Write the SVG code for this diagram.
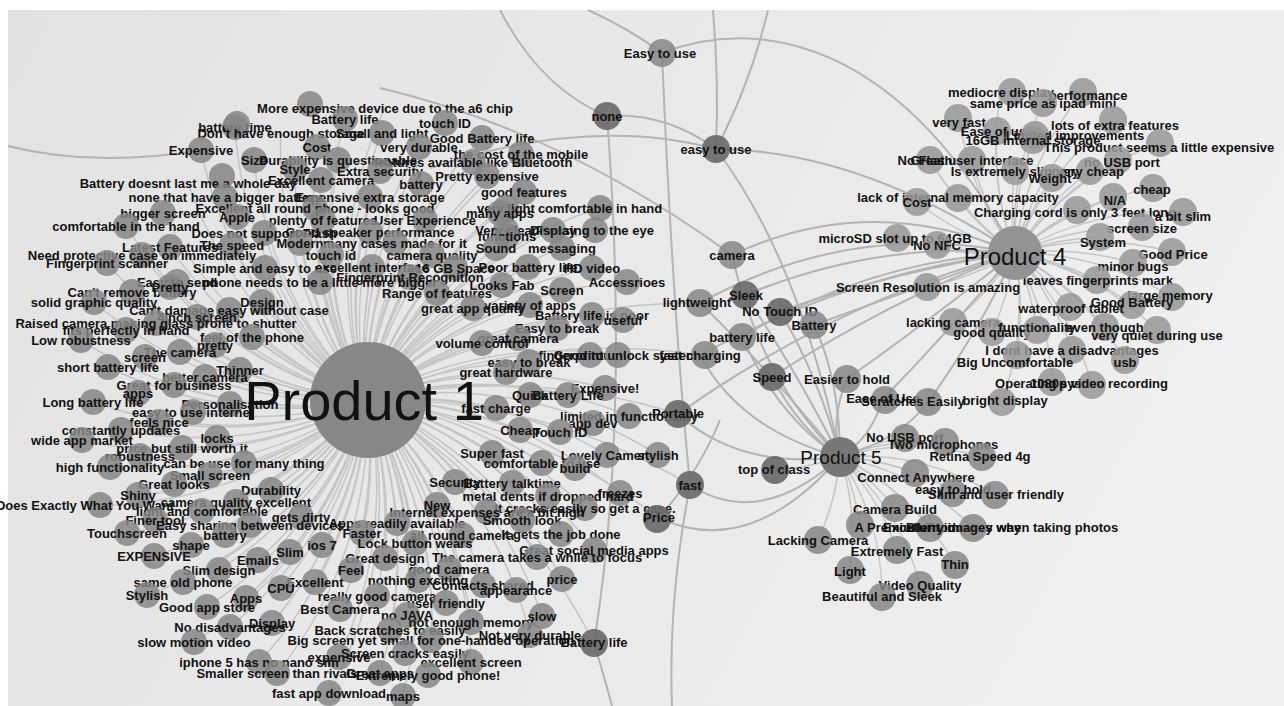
<svg xmlns="http://www.w3.org/2000/svg" width="1284" height="706" viewBox="0 0 1284 706">
<defs>
<linearGradient id="bg" x1="0" y1="0" x2="1" y2="0.3">
<stop offset="0" stop-color="#e2e2e2"/><stop offset="1" stop-color="#efefef"/>
</linearGradient>
<style>
.e{fill:none;stroke:#c6c6c6;stroke-width:1.5}
.E{fill:none;stroke:#b4b4b4;stroke-width:2}
circle{fill:#868686;fill-opacity:.85}
circle.d{fill:#6a6a6a;fill-opacity:.92}
circle.l{fill:#979797;fill-opacity:.85}
text{font-family:"Liberation Sans",Arial,sans-serif;font-weight:bold;font-size:13px;fill:#111;text-anchor:middle;dominant-baseline:central}
text.pl{font-weight:normal}
</style>
</defs>
<rect width="1284" height="706" fill="#ffffff"/>
<rect x="8" y="10" width="1276" height="696" fill="url(#bg)"/>
<g id="connectors">
<path class="e" d="M367,400A400,400 0 0 1 235,127"/><path class="e" d="M367,400A400,400 0 0 1 281,133"/><path class="e" d="M367,400A400,400 0 0 1 385,108"/><path class="e" d="M367,400A400,400 0 0 1 345,119"/><path class="e" d="M367,400A400,400 0 0 1 445,123"/><path class="e" d="M367,400A400,400 0 0 1 482,138"/><path class="e" d="M367,400A400,400 0 0 1 382,133"/><path class="e" d="M367,400A400,400 0 0 1 317,147"/><path class="e" d="M367,400A400,400 0 0 1 419,147"/><path class="e" d="M367,400A400,400 0 0 1 201,150"/><path class="e" d="M367,400A400,400 0 0 1 521,154"/><path class="e" d="M367,400A400,400 0 0 1 254,160"/><path class="e" d="M367,400A400,400 0 0 1 338,160"/><path class="e" d="M367,400A400,400 0 0 1 473,162"/><path class="e" d="M367,400A400,400 0 0 1 295,169"/><path class="e" d="M367,400A400,400 0 0 1 380,171"/><path class="e" d="M367,400A400,400 0 0 1 487,176"/><path class="e" d="M367,400A400,400 0 0 1 321,180"/><path class="e" d="M367,400A400,400 0 0 1 188,183"/><path class="e" d="M367,400A400,400 0 0 1 421,184"/><path class="e" d="M367,400A400,400 0 0 1 524,192"/><path class="e" d="M367,400A400,400 0 0 1 370,197"/><path class="e" d="M367,400A400,400 0 0 1 225,197"/><path class="e" d="M367,400A400,400 0 0 1 315,208"/><path class="e" d="M367,400A400,400 0 0 1 163,213"/><path class="e" d="M367,400A400,400 0 0 1 506,208"/><path class="e" d="M367,400A400,400 0 0 1 600,208"/><path class="e" d="M367,400A400,400 0 0 1 237,217"/><path class="e" d="M367,400A400,400 0 0 1 323,220"/><path class="e" d="M367,400A400,400 0 0 1 425,220"/><path class="e" d="M367,400A400,400 0 0 1 126,226"/><path class="e" d="M367,400A400,400 0 0 1 506,230"/><path class="e" d="M367,400A400,400 0 0 1 595,230"/><path class="e" d="M367,400A400,400 0 0 1 553,230"/><path class="e" d="M367,400A400,400 0 0 1 264,233"/><path class="e" d="M367,400A400,400 0 0 1 370,232"/><path class="e" d="M367,400A400,400 0 0 1 300,243"/><path class="e" d="M367,400A400,400 0 0 1 395,243"/><path class="e" d="M367,400A400,400 0 0 1 170,247"/><path class="e" d="M367,400A400,400 0 0 1 232,245"/><path class="e" d="M367,400A400,400 0 0 1 496,248"/><path class="e" d="M367,400A400,400 0 0 1 562,248"/><path class="e" d="M367,400A400,400 0 0 1 142,255"/><path class="e" d="M367,400A400,400 0 0 1 331,255"/><path class="e" d="M367,400A400,400 0 0 1 432,255"/><path class="e" d="M367,400A400,400 0 0 1 107,263"/><path class="e" d="M367,400A400,400 0 0 1 265,268"/><path class="e" d="M367,400A400,400 0 0 1 372,267"/><path class="e" d="M367,400A400,400 0 0 1 455,268"/><path class="e" d="M367,400A400,400 0 0 1 528,267"/><path class="e" d="M367,400A400,400 0 0 1 592,268"/><path class="e" d="M367,400A400,400 0 0 1 410,277"/><path class="e" d="M367,400A400,400 0 0 1 177,282"/><path class="e" d="M367,400A400,400 0 0 1 320,282"/><path class="e" d="M367,400A400,400 0 0 1 502,285"/><path class="e" d="M367,400A400,400 0 0 1 627,282"/><path class="e" d="M367,400A400,400 0 0 1 437,293"/><path class="e" d="M367,400A400,400 0 0 1 562,290"/><path class="e" d="M367,400A400,400 0 0 1 132,292"/><path class="e" d="M367,400A400,400 0 0 1 94,302"/><path class="e" d="M367,400A400,400 0 0 1 262,302"/><path class="e" d="M367,400A400,400 0 0 1 530,305"/><path class="e" d="M367,400A400,400 0 0 1 473,308"/><path class="e" d="M367,400A400,400 0 0 1 229,310"/><path class="e" d="M367,400A400,400 0 0 1 592,315"/><path class="e" d="M367,400A400,400 0 0 1 623,320"/><path class="e" d="M367,400A400,400 0 0 1 156,323"/><path class="e" d="M367,400A400,400 0 0 1 557,328"/><path class="e" d="M367,400A400,400 0 0 1 252,337"/><path class="e" d="M367,400A400,400 0 0 1 518,338"/><path class="e" d="M367,400A400,400 0 0 1 81,340"/><path class="e" d="M367,400A400,400 0 0 1 482,343"/><path class="e" d="M367,400A400,400 0 0 1 180,352"/><path class="e" d="M367,400A400,400 0 0 1 618,355"/><path class="e" d="M367,400A400,400 0 0 1 529,362"/><path class="e" d="M367,400A400,400 0 0 1 108,367"/><path class="e" d="M367,400A400,400 0 0 1 240,370"/><path class="e" d="M367,400A400,400 0 0 1 506,372"/><path class="e" d="M367,400A400,400 0 0 1 205,377"/><path class="e" d="M367,400A400,400 0 0 1 174,385"/><path class="e" d="M367,400A400,400 0 0 1 605,388"/><path class="e" d="M367,400A400,400 0 0 1 568,395"/><path class="e" d="M367,400A400,400 0 0 1 93,402"/><path class="e" d="M367,400A400,400 0 0 1 230,404"/><path class="e" d="M367,400A400,400 0 0 1 496,408"/><path class="e" d="M367,400A400,400 0 0 1 193,412"/><path class="e" d="M367,400A400,400 0 0 1 629,416"/><path class="e" d="M367,400A400,400 0 0 1 159,422"/><path class="e" d="M367,400A400,400 0 0 1 121,430"/><path class="e" d="M367,400A400,400 0 0 1 520,430"/><path class="e" d="M367,400A400,400 0 0 1 560,432"/><path class="e" d="M367,400A400,400 0 0 1 82,440"/><path class="e" d="M367,400A400,400 0 0 1 182,448"/><path class="e" d="M367,400A400,400 0 0 1 492,453"/><path class="e" d="M367,400A400,400 0 0 1 607,455"/><path class="e" d="M367,400A400,400 0 0 1 658,455"/><path class="e" d="M367,400A400,400 0 0 1 244,463"/><path class="e" d="M367,400A400,400 0 0 1 542,463"/><path class="e" d="M367,400A400,400 0 0 1 110,467"/><path class="e" d="M367,400A400,400 0 0 1 210,475"/><path class="e" d="M367,400A400,400 0 0 1 455,482"/><path class="e" d="M367,400A400,400 0 0 1 512,483"/><path class="e" d="M367,400A400,400 0 0 1 174,484"/><path class="e" d="M367,400A400,400 0 0 1 271,490"/><path class="e" d="M367,400A400,400 0 0 1 620,493"/><path class="e" d="M367,400A400,400 0 0 1 138,495"/><path class="e" d="M367,400A400,400 0 0 1 548,496"/><path class="e" d="M367,400A400,400 0 0 1 236,502"/><path class="e" d="M367,400A400,400 0 0 1 85,505"/><path class="e" d="M367,400A400,400 0 0 1 585,508"/><path class="e" d="M367,400A400,400 0 0 1 202,511"/><path class="e" d="M367,400A400,400 0 0 1 487,512"/><path class="e" d="M367,400A400,400 0 0 1 301,517"/><path class="e" d="M367,400A400,400 0 0 1 397,523"/><path class="e" d="M367,400A400,400 0 0 1 250,525"/><path class="e" d="M367,400A400,400 0 0 1 127,533"/><path class="e" d="M367,400A400,400 0 0 1 362,533"/><path class="e" d="M367,400A400,400 0 0 1 462,535"/><path class="e" d="M367,400A400,400 0 0 1 561,534"/><path class="e" d="M367,400A400,400 0 0 1 415,543"/><path class="e" d="M367,400A400,400 0 0 1 191,545"/><path class="e" d="M367,400A400,400 0 0 1 322,545"/><path class="e" d="M367,400A400,400 0 0 1 290,552"/><path class="e" d="M367,400A400,400 0 0 1 594,550"/><path class="e" d="M367,400A400,400 0 0 1 154,556"/><path class="e" d="M367,400A400,400 0 0 1 385,558"/><path class="e" d="M367,400A400,400 0 0 1 537,557"/><path class="e" d="M367,400A400,400 0 0 1 258,560"/><path class="e" d="M367,400A400,400 0 0 1 449,569"/><path class="e" d="M367,400A400,400 0 0 1 351,570"/><path class="e" d="M367,400A400,400 0 0 1 219,570"/><path class="e" d="M367,400A400,400 0 0 1 418,580"/><path class="e" d="M367,400A400,400 0 0 1 315,582"/><path class="e" d="M367,400A400,400 0 0 1 183,582"/><path class="e" d="M367,400A400,400 0 0 1 562,579"/><path class="e" d="M367,400A400,400 0 0 1 483,585"/><path class="e" d="M367,400A400,400 0 0 1 281,588"/><path class="e" d="M367,400A400,400 0 0 1 516,590"/><path class="e" d="M367,400A400,400 0 0 1 147,595"/><path class="e" d="M367,400A400,400 0 0 1 246,598"/><path class="e" d="M367,400A400,400 0 0 1 377,596"/><path class="e" d="M367,400A400,400 0 0 1 446,603"/><path class="e" d="M367,400A400,400 0 0 1 207,607"/><path class="e" d="M367,400A400,400 0 0 1 340,609"/><path class="e" d="M367,400A400,400 0 0 1 407,615"/><path class="e" d="M367,400A400,400 0 0 1 542,616"/><path class="e" d="M367,400A400,400 0 0 1 471,622"/><path class="e" d="M367,400A400,400 0 0 1 272,623"/><path class="e" d="M367,400A400,400 0 0 1 230,627"/><path class="e" d="M367,400A400,400 0 0 1 390,630"/><path class="e" d="M367,400A400,400 0 0 1 530,635"/><path class="e" d="M367,400A400,400 0 0 1 431,640"/><path class="e" d="M367,400A400,400 0 0 1 194,642"/><path class="e" d="M367,400A400,400 0 0 1 339,657"/><path class="e" d="M367,400A400,400 0 0 1 405,653"/><path class="e" d="M367,400A400,400 0 0 1 259,662"/><path class="e" d="M367,400A400,400 0 0 1 471,662"/><path class="e" d="M367,400A400,400 0 0 1 277,673"/><path class="e" d="M367,400A400,400 0 0 1 380,673"/><path class="e" d="M367,400A400,400 0 0 1 428,675"/><path class="e" d="M367,400A400,400 0 0 1 329,693"/><path class="e" d="M367,400A400,400 0 0 1 403,696"/>
<path class="e" d="M367,400A600,600 0 0 1 678,414"/><path class="e" d="M367,400A600,600 0 0 1 690,485"/><path class="e" d="M367,400A600,600 0 0 1 659,518"/><path class="e" d="M367,400A600,600 0 0 1 700,355"/><path class="e" d="M367,400A600,600 0 0 1 700,303"/><path class="e" d="M367,400A600,600 0 0 1 594,643"/>
<path class="e" d="M1015,253A300,300 0 0 1 1001,92"/><path class="e" d="M1015,253A300,300 0 0 1 1083,92"/><path class="e" d="M1015,253A300,300 0 0 1 1043,103"/><path class="e" d="M1015,253A300,300 0 0 1 1113,120"/><path class="e" d="M1015,253A300,300 0 0 1 959,118"/><path class="e" d="M1015,253A300,300 0 0 1 997,131"/><path class="e" d="M1015,253A300,300 0 0 1 1075,135"/><path class="e" d="M1015,253A300,300 0 0 1 1033,140"/><path class="e" d="M1015,253A300,300 0 0 1 1160,143"/><path class="e" d="M1015,253A300,300 0 0 1 1118,160"/><path class="e" d="M1015,253A300,300 0 0 1 930,160"/><path class="e" d="M1015,253A300,300 0 0 1 972,160"/><path class="e" d="M1015,253A300,300 0 0 1 1015,171"/><path class="e" d="M1015,253A300,300 0 0 1 1090,171"/><path class="e" d="M1015,253A300,300 0 0 1 1052,178"/><path class="e" d="M1015,253A300,300 0 0 1 1153,188"/><path class="e" d="M1015,253A300,300 0 0 1 1113,197"/><path class="e" d="M1015,253A300,300 0 0 1 958,198"/><path class="e" d="M1015,253A300,300 0 0 1 917,202"/><path class="e" d="M1015,253A300,300 0 0 1 1077,210"/><path class="e" d="M1015,253A300,300 0 0 1 1183,212"/><path class="e" d="M1015,253A300,300 0 0 1 1142,227"/><path class="e" d="M1015,253A300,300 0 0 1 897,238"/><path class="e" d="M1015,253A300,300 0 0 1 937,245"/><path class="e" d="M1015,253A300,300 0 0 1 1100,237"/><path class="e" d="M1015,253A300,300 0 0 1 1172,252"/><path class="e" d="M1015,253A300,300 0 0 1 1133,263"/><path class="e" d="M1015,253A300,300 0 0 1 927,287"/><path class="e" d="M1015,253A300,300 0 0 1 1097,280"/><path class="e" d="M1015,253A300,300 0 0 1 1172,297"/><path class="e" d="M1015,253A300,300 0 0 1 1132,305"/><path class="e" d="M1015,253A300,300 0 0 1 1070,307"/><path class="e" d="M1015,253A300,300 0 0 1 953,322"/><path class="e" d="M1015,253A300,300 0 0 1 992,332"/><path class="e" d="M1015,253A300,300 0 0 1 1037,330"/><path class="e" d="M1015,253A300,300 0 0 1 1105,327"/><path class="e" d="M1015,253A300,300 0 0 1 1157,330"/><path class="e" d="M1015,253A300,300 0 0 1 1072,350"/><path class="e" d="M1015,253A300,300 0 0 1 1017,355"/><path class="e" d="M1015,253A300,300 0 0 1 1125,360"/><path class="e" d="M1015,253A300,300 0 0 1 1052,382"/><path class="e" d="M1015,253A300,300 0 0 1 1092,385"/><path class="e" d="M1015,253A300,300 0 0 1 1002,402"/>
<path class="e" d="M840,457A250,250 0 0 1 775,470"/><path class="e" d="M840,457A250,250 0 0 1 905,438"/><path class="e" d="M840,457A250,250 0 0 1 945,442"/><path class="e" d="M840,457A250,250 0 0 1 982,457"/><path class="e" d="M840,457A250,250 0 0 1 915,473"/><path class="e" d="M840,457A250,250 0 0 1 953,491"/><path class="e" d="M840,457A250,250 0 0 1 995,495"/><path class="e" d="M840,457A250,250 0 0 1 895,508"/><path class="e" d="M840,457A250,250 0 0 1 860,525"/><path class="e" d="M840,457A250,250 0 0 1 930,528"/><path class="e" d="M840,457A250,250 0 0 1 973,528"/><path class="e" d="M840,457A250,250 0 0 1 818,540"/><path class="e" d="M840,457A250,250 0 0 1 897,550"/><path class="e" d="M840,457A250,250 0 0 1 955,565"/><path class="e" d="M840,457A250,250 0 0 1 850,570"/><path class="e" d="M840,457A250,250 0 0 1 920,585"/><path class="e" d="M840,457A250,250 0 0 1 882,597"/>
<path class="E" d="M1015,253Q870,190 732,255"/><path class="E" d="M1015,253Q880,240 745,295"/><path class="E" d="M1015,253Q850,220 700,303"/><path class="E" d="M1015,253Q900,270 780,311"/><path class="E" d="M1015,253Q910,290 814,325"/><path class="E" d="M1015,253Q870,260 742,337"/><path class="E" d="M1015,253Q860,270 700,355"/><path class="E" d="M1015,253Q890,300 772,377"/><path class="E" d="M1015,253Q930,320 847,379"/><path class="E" d="M1015,253Q950,330 883,399"/><path class="E" d="M1015,253Q980,330 928,402"/><path class="E" d="M1015,253Q840,300 678,414"/><path class="E" d="M1015,253Q860,150 716,149"/><path class="E" d="M662,53C760,15 900,40 1015,253"/>
<path class="E" d="M840,457Q760,380 732,255"/><path class="E" d="M840,457Q790,360 745,295"/><path class="E" d="M840,457Q760,360 700,303"/><path class="E" d="M840,457Q820,380 780,311"/><path class="E" d="M840,457Q840,380 814,325"/><path class="E" d="M840,457Q780,420 742,337"/><path class="E" d="M840,457Q740,430 700,355"/><path class="E" d="M840,457Q800,430 772,377"/><path class="E" d="M840,457Q830,420 847,379"/><path class="E" d="M840,457Q870,440 883,399"/><path class="E" d="M840,457Q900,440 928,402"/><path class="E" d="M840,457Q740,470 678,414"/><path class="E" d="M840,457Q760,530 690,485"/><path class="E" d="M840,457Q750,560 659,518"/><path class="E" d="M716,149Q800,260 840,457"/>
<path class="E" d="M500,10Q540,88 607,116"/><path class="E" d="M607,116Q630,420 594,643"/><path class="E" d="M594,643Q604,676 612,706"/><path class="E" d="M588,10Q628,28 662,53"/><path class="E" d="M662,53Q672,300 690,485"/><path class="E" d="M690,485Q668,600 672,706"/><path class="E" d="M713,10Q719,80 716,149"/><path class="E" d="M768,10Q750,85 716,149"/><path class="E" d="M607,116Q665,112 716,149"/><path class="E" d="M8,146Q95,168 201,150"/><path class="E" d="M380,88Q560,130 732,255"/><path class="E" d="M430,168Q590,115 716,149"/><path class="E" d="M659,518Q700,470 720,420"/>
</g>
<g id="n-a1"><circle cx="235" cy="127" r="13"/><text x="235" y="127">battery time</text></g>
<g id="n-a2"><circle cx="237" cy="124" r="13"/><text x="281" y="133">Don't have enough storage</text></g>
<g id="n-a3"><circle cx="310" cy="104" r="13"/><text x="385" y="108">More expensive device due to the a6 chip</text></g>
<g id="n-a4"><circle cx="345" cy="119" r="13"/><text x="345" y="119">Battery life</text></g>
<g id="n-a5"><circle cx="445" cy="123" r="13"/><text x="445" y="123">touch ID</text></g>
<g id="n-a6"><circle cx="482" cy="138" r="13"/><text x="482" y="138">Good Battery life</text></g>
<g id="n-a7"><circle cx="382" cy="133" r="13"/><text x="382" y="133">Small and light</text></g>
<g id="n-a8"><circle cx="317" cy="147" r="13"/><text x="317" y="147">Cost</text></g>
<g id="n-a9"><circle cx="419" cy="147" r="13"/><text x="419" y="147">very durable</text></g>
<g id="n-a10"><circle cx="201" cy="150" r="13"/><text x="201" y="150">Expensive</text></g>
<g id="n-a11"><circle cx="521" cy="154" r="13"/><text x="521" y="154">the cost of the mobile</text></g>
<g id="n-a12"><circle cx="254" cy="160" r="13"/><text x="254" y="160">Size</text></g>
<g id="n-a13"><circle cx="338" cy="160" r="13"/><text x="338" y="160">Durability is questionable</text></g>
<g id="n-a14"><circle cx="473" cy="162" r="13"/><text x="473" y="162">features available like Bluetooth</text></g>
<g id="n-a15"><circle cx="295" cy="169" r="13"/><text x="295" y="169">Style</text></g>
<g id="n-a16"><circle cx="380" cy="171" r="13"/><text x="380" y="171">Extra security</text></g>
<g id="n-a17"><circle cx="487" cy="176" r="13"/><text x="487" y="176">Pretty expensive</text></g>
<g id="n-a18"><circle cx="321" cy="180" r="13"/><text x="321" y="180">Excellent camera</text></g>
<g id="n-a19"><circle cx="222" cy="176" r="13"/><text x="188" y="183">Battery doesnt last me a whole day</text></g>
<g id="n-a20"><circle cx="421" cy="184" r="13"/><text x="421" y="184">battery</text></g>
<g id="n-a21"><circle cx="524" cy="192" r="13"/><text x="524" y="192">good features</text></g>
<g id="n-a22"><circle cx="370" cy="197" r="13"/><text x="370" y="197">Expensive extra storage</text></g>
<g id="n-a23"><circle cx="225" cy="197" r="13"/><text x="225" y="197">none that have a bigger battery</text></g>
<g id="n-a24"><circle cx="315" cy="208" r="13"/><text x="315" y="208">Excellent all round phone - looks good</text></g>
<g id="n-a25"><circle cx="163" cy="213" r="13"/><text x="163" y="213">bigger screen</text></g>
<g id="n-a26"><circle cx="506" cy="208" r="13"/><text x="506" y="208">very light</text></g>
<g id="n-a27"><circle cx="600" cy="208" r="13"/><text x="600" y="208">comfortable in hand</text></g>
<g id="n-a28"><circle cx="237" cy="217" r="13"/><text x="237" y="217">Apple</text></g>
<g id="n-a29"><circle cx="323" cy="220" r="13"/><text x="323" y="220">plenty of features</text></g>
<g id="n-a30"><circle cx="425" cy="220" r="13"/><text x="425" y="220">User Experience</text></g>
<g id="n-a31"><circle cx="500" cy="213" r="13"/><text x="500" y="213">many apps</text></g>
<g id="n-a32"><circle cx="126" cy="226" r="13"/><text x="126" y="226">comfortable in the hand</text></g>
<g id="n-a33"><circle cx="506" cy="230" r="13"/><text x="506" y="230">Very clear</text></g>
<g id="n-a34"><circle cx="507" cy="236" r="13"/><text x="507" y="236">functions</text></g>
<g id="n-a35"><circle cx="595" cy="230" r="13"/><text x="595" y="230">Pleasing to the eye</text></g>
<g id="n-a36"><circle cx="553" cy="230" r="13"/><text x="553" y="230">Display</text></g>
<g id="n-a37"><circle cx="264" cy="233" r="13"/><text x="264" y="233">Does not support Flash</text></g>
<g id="n-a38"><circle cx="370" cy="232" r="13"/><text x="370" y="232">Good speaker performance</text></g>
<g id="n-a39"><circle cx="300" cy="243" r="13"/><text x="300" y="243">Modern</text></g>
<g id="n-a40"><circle cx="395" cy="243" r="13"/><text x="395" y="243">many cases made for it</text></g>
<g id="n-a41"><circle cx="170" cy="247" r="13"/><text x="170" y="247">Latest Features</text></g>
<g id="n-a42"><circle cx="232" cy="245" r="13"/><text x="232" y="245">The speed</text></g>
<g id="n-a43"><circle cx="496" cy="248" r="13"/><text x="496" y="248">Sound</text></g>
<g id="n-a44"><circle cx="562" cy="248" r="13"/><text x="562" y="248">messaging</text></g>
<g id="n-a45"><circle cx="142" cy="255" r="13"/><text x="142" y="255">Need protective case on immediately</text></g>
<g id="n-a46"><circle cx="331" cy="255" r="13"/><text x="331" y="255">touch id</text></g>
<g id="n-a47"><circle cx="432" cy="255" r="13"/><text x="432" y="255">camera quality</text></g>
<g id="n-a48"><circle cx="107" cy="263" r="13"/><text x="107" y="263">Fingerprint scanner</text></g>
<g id="n-a49"><circle cx="265" cy="268" r="13"/><text x="265" y="268">Simple and easy to use</text></g>
<g id="n-a50"><circle cx="372" cy="267" r="13"/><text x="372" y="267">excellent interface</text></g>
<g id="n-a51"><circle cx="455" cy="268" r="13"/><text x="455" y="268">16 GB Space</text></g>
<g id="n-a52"><circle cx="528" cy="267" r="13"/><text x="528" y="267">Poor battery life</text></g>
<g id="n-a53"><circle cx="592" cy="268" r="13"/><text x="592" y="268">HD video</text></g>
<g id="n-a54"><circle cx="410" cy="277" r="13"/><text x="410" y="277">Fingerprint Recognition</text></g>
<g id="n-a55"><circle cx="177" cy="282" r="13"/><text x="177" y="282">Easy to send</text></g>
<g id="n-a56"><circle cx="320" cy="282" r="13"/><text x="320" y="282">phone needs to be a little more bigger</text></g>
<g id="n-a57"><circle cx="502" cy="285" r="13"/><text x="502" y="285">Looks Fab</text></g>
<g id="n-a58"><circle cx="627" cy="282" r="13"/><text x="627" y="282">Accessrioes</text></g>
<g id="n-a59"><circle cx="437" cy="293" r="13"/><text x="437" y="293">Range of features</text></g>
<g id="n-a60"><circle cx="562" cy="290" r="13"/><text x="562" y="290">Screen</text></g>
<g id="n-a61"><circle cx="132" cy="292" r="13"/><text x="132" y="292">Can't remove battery</text></g>
<g id="n-a62"><circle cx="170" cy="287" r="13"/><text x="170" y="287">Pretty</text></g>
<g id="n-a63"><circle cx="94" cy="302" r="13"/><text x="94" y="302">solid graphic quality</text></g>
<g id="n-a64"><circle cx="262" cy="302" r="13"/><text x="262" y="302">Design</text></g>
<g id="n-a65"><circle cx="530" cy="305" r="13"/><text x="530" y="305">variety of apps</text></g>
<g id="n-a66"><circle cx="473" cy="308" r="13"/><text x="473" y="308">great app quality</text></g>
<g id="n-a67"><circle cx="229" cy="310" r="13"/><text x="229" y="310">Can't damage easy without case</text></g>
<g id="n-a68"><circle cx="197" cy="317" r="13"/><text x="197" y="317">4inch screen</text></g>
<g id="n-a69"><circle cx="592" cy="315" r="13"/><text x="592" y="315">Battery life is poor</text></g>
<g id="n-a70"><circle cx="623" cy="320" r="13"/><text x="623" y="320">useful</text></g>
<g id="n-a71"><circle cx="156" cy="323" r="13"/><text x="156" y="323">Raised camera making glass prone to shutter</text></g>
<g id="n-a72"><circle cx="126" cy="330" r="13"/><text x="126" y="330">fits perfectly in hand</text></g>
<g id="n-a73"><circle cx="557" cy="328" r="13"/><text x="557" y="328">Easy to break</text></g>
<g id="n-a74"><circle cx="252" cy="337" r="13"/><text x="252" y="337">feel of the phone</text></g>
<g id="n-a75"><circle cx="518" cy="338" r="13"/><text x="518" y="338">great camera</text></g>
<g id="n-a76"><circle cx="81" cy="340" r="13"/><text x="81" y="340">Low robustness</text></g>
<g id="n-a77"><circle cx="482" cy="343" r="13"/><text x="482" y="343">volume control</text></g>
<g id="n-a78"><circle cx="215" cy="345" r="13"/><text x="215" y="345">pretty</text></g>
<g id="n-a79"><circle cx="180" cy="352" r="13"/><text x="180" y="352">The camera</text></g>
<g id="n-a80"><circle cx="145" cy="357" r="13"/><text x="145" y="357">screen</text></g>
<g id="n-a81"><circle cx="590" cy="355" r="13"/><text x="590" y="355">Good touch</text></g>
<g id="n-a82"><circle cx="618" cy="355" r="13"/><text x="618" y="355">fingerprint unlock system</text></g>
<g id="n-a83"><circle cx="529" cy="362" r="13"/><text x="529" y="362">easy to break</text></g>
<g id="n-a84"><circle cx="108" cy="367" r="13"/><text x="108" y="367">short battery life</text></g>
<g id="n-a85"><circle cx="240" cy="370" r="13"/><text x="240" y="370">Thinner</text></g>
<g id="n-a86"><circle cx="506" cy="372" r="13"/><text x="506" y="372">great hardware</text></g>
<g id="n-a87"><circle cx="205" cy="377" r="13"/><text x="205" y="377">better camera</text></g>
<g id="n-a88"><circle cx="174" cy="385" r="13"/><text x="174" y="385">Great for business</text></g>
<g id="n-a89"><circle cx="605" cy="388" r="13"/><text x="605" y="388">Expensive!</text></g>
<g id="n-a90"><circle cx="138" cy="393" r="13"/><text x="138" y="393">apps</text></g>
<g id="n-a91"><circle cx="530" cy="395" r="13"/><text x="530" y="395">Quick</text></g>
<g id="n-a92"><circle cx="568" cy="395" r="13"/><text x="568" y="395">Battery Life</text></g>
<g id="n-a93"><circle cx="93" cy="402" r="13"/><text x="93" y="402">Long battery life</text></g>
<g id="n-a94"><circle cx="230" cy="404" r="13"/><text x="230" y="404">Personalisation</text></g>
<g id="n-a95"><circle cx="496" cy="408" r="13"/><text x="496" y="408">fast charge</text></g>
<g id="n-a96"><circle cx="193" cy="412" r="13"/><text x="193" y="412">easy to use internet</text></g>
<g id="n-a97"><circle cx="629" cy="416" r="13"/><text x="629" y="416">limited in functionality</text></g>
<g id="n-a98"><circle cx="593" cy="423" r="13"/><text x="593" y="423">app dev</text></g>
<g id="n-a99"><circle cx="159" cy="422" r="13"/><text x="159" y="422">feels nice</text></g>
<g id="n-a100"><circle cx="121" cy="430" r="13"/><text x="121" y="430">constantly updates</text></g>
<g id="n-a101"><circle cx="520" cy="430" r="13"/><text x="520" y="430">Cheap</text></g>
<g id="n-a102"><circle cx="560" cy="432" r="13"/><text x="560" y="432">Touch ID</text></g>
<g id="n-a103"><circle cx="217" cy="438" r="13"/><text x="217" y="438">locks</text></g>
<g id="n-a104"><circle cx="82" cy="440" r="13"/><text x="82" y="440">wide app market</text></g>
<g id="n-a105"><circle cx="182" cy="448" r="13"/><text x="182" y="448">price but still worth it</text></g>
<g id="n-a106"><circle cx="492" cy="453" r="13"/><text x="492" y="453">Super fast</text></g>
<g id="n-a107"><circle cx="607" cy="455" r="13"/><text x="607" y="455">Lovely Camera</text></g>
<g id="n-a108"><circle cx="658" cy="455" r="13"/><text x="658" y="455">stylish</text></g>
<g id="n-a109"><circle cx="140" cy="456" r="13"/><text x="140" y="456">robustness</text></g>
<g id="n-a110"><circle cx="244" cy="463" r="13"/><text x="244" y="463">can be use for many thing</text></g>
<g id="n-a111"><circle cx="542" cy="463" r="13"/><text x="542" y="463">comfortable to use</text></g>
<g id="n-a112"><circle cx="575" cy="468" r="13"/><text x="575" y="468">build</text></g>
<g id="n-a113"><circle cx="110" cy="467" r="13"/><text x="110" y="467">high functionality</text></g>
<g id="n-a114"><circle cx="210" cy="475" r="13"/><text x="210" y="475">Small screen</text></g>
<g id="n-a115"><circle cx="455" cy="482" r="13"/><text x="455" y="482">Security</text></g>
<g id="n-a116"><circle cx="512" cy="483" r="13"/><text x="512" y="483">Battery talktime</text></g>
<g id="n-a117"><circle cx="174" cy="484" r="13"/><text x="174" y="484">Great looks</text></g>
<g id="n-a118"><circle cx="271" cy="490" r="13"/><text x="271" y="490">Durability</text></g>
<g id="n-a119"><circle cx="620" cy="493" r="13"/><text x="620" y="493">freezes</text></g>
<g id="n-a120"><circle cx="138" cy="495" r="13"/><text x="138" y="495">Shiny</text></g>
<g id="n-a121"><circle cx="548" cy="496" r="13"/><text x="548" y="496">metal dents if dropped hard</text></g>
<g id="n-a122"><circle cx="236" cy="502" r="13"/><text x="236" y="502">camera quality excellent</text></g>
<g id="n-a123"><circle cx="100" cy="505" r="13"/><text x="85" y="505">Does Exactly What You Want</text></g>
<g id="n-a124"><circle cx="437" cy="505" r="13"/><text x="437" y="505">New</text></g>
<g id="n-a125"><circle cx="585" cy="508" r="13"/><text x="585" y="508">It cracks easily so get a case.</text></g>
<g id="n-a126"><circle cx="202" cy="511" r="13"/><text x="202" y="511">light and comfortable</text></g>
<g id="n-a127"><circle cx="487" cy="512" r="13"/><text x="487" y="512">Internet expenses are a bit high</text></g>
<g id="n-a128"><circle cx="301" cy="517" r="13"/><text x="301" y="517">gets dirty</text></g>
<g id="n-a129"><circle cx="522" cy="520" r="13"/><text x="522" y="520">Smooth look</text></g>
<g id="n-a130"><circle cx="397" cy="523" r="13"/><text x="397" y="523">Apps readily available</text></g>
<g id="n-a131"><circle cx="155" cy="520" r="13"/><text x="155" y="520">Finer tool</text></g>
<g id="n-a132"><circle cx="250" cy="525" r="13"/><text x="250" y="525">Easy sharing between devices</text></g>
<g id="n-a133"><circle cx="127" cy="533" r="13"/><text x="127" y="533">Touchscreen</text></g>
<g id="n-a134"><circle cx="225" cy="535" r="13"/><text x="225" y="535">battery</text></g>
<g id="n-a135"><circle cx="362" cy="533" r="13"/><text x="362" y="533">Faster</text></g>
<g id="n-a136"><circle cx="462" cy="535" r="13"/><text x="462" y="535">all round camera</text></g>
<g id="n-a137"><circle cx="561" cy="534" r="13"/><text x="561" y="534">It gets the job done</text></g>
<g id="n-a138"><circle cx="415" cy="543" r="13"/><text x="415" y="543">Lock button wears</text></g>
<g id="n-a139"><circle cx="191" cy="545" r="13"/><text x="191" y="545">shape</text></g>
<g id="n-a140"><circle cx="322" cy="545" r="13"/><text x="322" y="545">ios 7</text></g>
<g id="n-a141"><circle cx="290" cy="552" r="13"/><text x="290" y="552">Slim</text></g>
<g id="n-a142"><circle cx="594" cy="550" r="13"/><text x="594" y="550">Great social media apps</text></g>
<g id="n-a143"><circle cx="154" cy="556" r="13"/><text x="154" y="556">EXPENSIVE</text></g>
<g id="n-a144"><circle cx="385" cy="558" r="13"/><text x="385" y="558">Great design</text></g>
<g id="n-a145"><circle cx="537" cy="557" r="13"/><text x="537" y="557">The camera takes a while to focus</text></g>
<g id="n-a146"><circle cx="258" cy="560" r="13"/><text x="258" y="560">Emails</text></g>
<g id="n-a147"><circle cx="449" cy="569" r="13"/><text x="449" y="569">good camera</text></g>
<g id="n-a148"><circle cx="351" cy="570" r="13"/><text x="351" y="570">Feel</text></g>
<g id="n-a149"><circle cx="219" cy="570" r="13"/><text x="219" y="570">Slim design</text></g>
<g id="n-a150"><circle cx="418" cy="580" r="13"/><text x="418" y="580">nothing exciting</text></g>
<g id="n-a151"><circle cx="315" cy="582" r="13"/><text x="315" y="582">Excellent</text></g>
<g id="n-a152"><circle cx="183" cy="582" r="13"/><text x="183" y="582">same old phone</text></g>
<g id="n-a153"><circle cx="562" cy="579" r="13"/><text x="562" y="579">price</text></g>
<g id="n-a154"><circle cx="483" cy="585" r="13"/><text x="483" y="585">Contacts shared</text></g>
<g id="n-a155"><circle cx="281" cy="588" r="13"/><text x="281" y="588">CPU</text></g>
<g id="n-a156"><circle cx="516" cy="590" r="13"/><text x="516" y="590">appearance</text></g>
<g id="n-a157"><circle cx="147" cy="595" r="13"/><text x="147" y="595">Stylish</text></g>
<g id="n-a158"><circle cx="246" cy="598" r="13"/><text x="246" y="598">Apps</text></g>
<g id="n-a159"><circle cx="377" cy="596" r="13"/><text x="377" y="596">really good camera</text></g>
<g id="n-a160"><circle cx="446" cy="603" r="13"/><text x="446" y="603">user friendly</text></g>
<g id="n-a161"><circle cx="207" cy="607" r="13"/><text x="207" y="607">Good app store</text></g>
<g id="n-a162"><circle cx="340" cy="609" r="13"/><text x="340" y="609">Best Camera</text></g>
<g id="n-a163"><circle cx="407" cy="615" r="13"/><text x="407" y="615">no JAVA</text></g>
<g id="n-a164"><circle cx="542" cy="616" r="13"/><text x="542" y="616">slow</text></g>
<g id="n-a165"><circle cx="471" cy="622" r="13"/><text x="471" y="622">not enough memory</text></g>
<g id="n-a166"><circle cx="272" cy="623" r="13"/><text x="272" y="623">Display</text></g>
<g id="n-a167"><circle cx="230" cy="627" r="13"/><text x="230" y="627">No disadvantages</text></g>
<g id="n-a168"><circle cx="390" cy="630" r="13"/><text x="390" y="630">Back scratches to easily</text></g>
<g id="n-a169"><circle cx="530" cy="635" r="13"/><text x="530" y="635">Not very durable</text></g>
<g id="n-a170"><circle cx="431" cy="640" r="13"/><text x="431" y="640">Big screen yet small for one-handed operation</text></g>
<g id="n-a171"><circle cx="194" cy="642" r="13"/><text x="194" y="642">slow motion video</text></g>
<g id="n-a172"><circle cx="339" cy="657" r="13"/><text x="339" y="657">expensive</text></g>
<g id="n-a173"><circle cx="405" cy="653" r="13"/><text x="405" y="653">Screen cracks easily</text></g>
<g id="n-a174"><circle cx="259" cy="662" r="13"/><text x="259" y="662">iphone 5 has no nano sim</text></g>
<g id="n-a175"><circle cx="471" cy="662" r="13"/><text x="471" y="662">excellent screen</text></g>
<g id="n-a176"><circle cx="277" cy="673" r="13"/><text x="277" y="673">Smaller screen than rivals</text></g>
<g id="n-a177"><circle cx="380" cy="673" r="13"/><text x="380" y="673">Great apps</text></g>
<g id="n-a178"><circle cx="428" cy="675" r="13"/><text x="428" y="675">Extremely good phone!</text></g>
<g id="n-a179"><circle cx="329" cy="693" r="13"/><text x="329" y="693">fast app download</text></g>
<g id="n-a180"><circle cx="403" cy="696" r="13"/><text x="403" y="696">maps</text></g>
<g id="n-s1"><circle cx="662" cy="53" r="14"/><text x="660" y="53">Easy to use</text></g>
<g id="n-s2"><circle class="d" cx="607" cy="116" r="14"/><text x="607" y="116">none</text></g>
<g id="n-s3"><circle class="d" cx="716" cy="149" r="14"/><text x="716" y="149">easy to use</text></g>
<g id="n-s4"><circle cx="732" cy="255" r="14"/><text x="732" y="255">camera</text></g>
<g id="n-s5"><circle class="d" cx="745" cy="295" r="14"/><text x="746" y="295">Sleek</text></g>
<g id="n-s6"><circle cx="700" cy="303" r="14"/><text x="697" y="302">lightweight</text></g>
<g id="n-s7"><circle class="d" cx="780" cy="312" r="14"/><text x="780" y="311">No Touch ID</text></g>
<g id="n-s8"><circle cx="814" cy="325" r="14"/><text x="814" y="325">Battery</text></g>
<g id="n-s9"><circle cx="742" cy="337" r="14"/><text x="742" y="337">battery life</text></g>
<g id="n-s10"><circle cx="705" cy="355" r="14"/><text x="700" y="355">fast charging</text></g>
<g id="n-s11"><circle class="d" cx="772" cy="377" r="14"/><text x="772" y="377">Speed</text></g>
<g id="n-s12"><circle cx="847" cy="379" r="14"/><text x="847" y="379">Easier to hold</text></g>
<g id="n-s13"><circle cx="885" cy="400" r="14"/><text x="883" y="398">Ease of Use</text></g>
<g id="n-s14"><circle cx="928" cy="402" r="14"/><text x="913" y="401">Scratches Easily</text></g>
<g id="n-s15"><circle class="d" cx="678" cy="414" r="14"/><text x="678" y="413">Portable</text></g>
<g id="n-s16"><circle class="d" cx="690" cy="485" r="14"/><text x="690" y="485">fast</text></g>
<g id="n-s17"><circle class="d" cx="657" cy="519" r="14"/><text x="659" y="517">Price</text></g>
<g id="n-s18"><circle class="d" cx="594" cy="643" r="14"/><text x="594" y="642">Battery life</text></g>
<g id="n-c1"><circle class="d" cx="775" cy="470" r="14"/><text x="774" y="469">top of class</text></g>
<g id="n-c2"><circle cx="905" cy="438" r="14"/><text x="905" y="437">No USB port</text></g>
<g id="n-c3"><circle cx="945" cy="442" r="14"/><text x="943" y="444">Two microphones</text></g>
<g id="n-c4"><circle cx="982" cy="457" r="14"/><text x="980" y="456">Retina Speed 4g</text></g>
<g id="n-c5"><circle cx="915" cy="473" r="14"/><text x="916" y="477">Connect Anywhere</text></g>
<g id="n-c6"><circle cx="953" cy="493" r="14"/><text x="953" y="489">easy to hold</text></g>
<g id="n-c7"><circle cx="995" cy="495" r="14"/><text x="996" y="494">Slim and user friendly</text></g>
<g id="n-c8"><circle cx="895" cy="508" r="14"/><text x="895" y="509">Camera Build</text></g>
<g id="n-c9"><circle cx="860" cy="525" r="14"/><text x="915" y="527">A Premium Product</text></g>
<g id="n-c10"><circle cx="930" cy="528" r="14"/><text x="952" y="527">Excellent in every way</text></g>
<g id="n-c11"><circle cx="973" cy="528" r="14"/><text x="1012" y="527">Blurry images when taking photos</text></g>
<g id="n-c12"><circle cx="818" cy="540" r="14"/><text x="818" y="540">Lacking Camera</text></g>
<g id="n-c13"><circle cx="897" cy="550" r="14"/><text x="897" y="551">Extremely Fast</text></g>
<g id="n-c14"><circle cx="955" cy="565" r="14"/><text x="955" y="564">Thin</text></g>
<g id="n-c15"><circle cx="850" cy="570" r="14"/><text x="850" y="571">Light</text></g>
<g id="n-c16"><circle cx="920" cy="585" r="14"/><text x="920" y="585">Video Quality</text></g>
<g id="n-c17"><circle cx="882" cy="597" r="14"/><text x="882" y="596">Beautiful and Sleek</text></g>
<g id="n-b1"><circle class="l" cx="1012" cy="92" r="14"/><text x="1001" y="92">mediocre display</text></g>
<g id="n-b2"><circle class="l" cx="1083" cy="92" r="14"/><text x="1088" y="95">performance</text></g>
<g id="n-b3"><circle class="l" cx="1043" cy="103" r="14"/><text x="1043" y="103">same price as ipad mini</text></g>
<g id="n-b4"><circle class="l" cx="1113" cy="120" r="14"/><text x="1115" y="125">lots of extra features</text></g>
<g id="n-b5"><circle class="l" cx="958" cy="118" r="14"/><text x="959" y="122">very fast</text></g>
<g id="n-b6"><circle class="l" cx="997" cy="131" r="14"/><text x="997" y="131">Ease of use</text></g>
<g id="n-b7"><circle class="l" cx="1035" cy="135" r="14"/><text x="1075" y="135">Limited improvements</text></g>
<g id="n-b8"><circle class="l" cx="1033" cy="140" r="14"/><text x="1033" y="140">16GB internal storage</text></g>
<g id="n-b9"><circle class="l" cx="1160" cy="143" r="14"/><text x="1159" y="147">This product seems a little expensive</text></g>
<g id="n-b10"><circle class="l" cx="1118" cy="160" r="14"/><text x="1122" y="162">no USB port</text></g>
<g id="n-b11"><circle class="l" cx="930" cy="160" r="14"/><text x="925" y="160">No Flash</text></g>
<g id="n-b12"><circle class="l" cx="972" cy="160" r="14"/><text x="972" y="160">Great user interface</text></g>
<g id="n-b13"><circle class="l" cx="1015" cy="171" r="14"/><text x="1015" y="171">Is extremely slippery</text></g>
<g id="n-b14"><circle class="l" cx="1090" cy="171" r="14"/><text x="1090" y="171">very cheap</text></g>
<g id="n-b15"><circle class="l" cx="1052" cy="178" r="14"/><text x="1050" y="178">Weight</text></g>
<g id="n-b16"><circle class="l" cx="1153" cy="188" r="14"/><text x="1152" y="189">cheap</text></g>
<g id="n-b17"><circle class="l" cx="1113" cy="197" r="14"/><text x="1115" y="200">N/A</text></g>
<g id="n-b18"><circle class="l" cx="958" cy="198" r="14"/><text x="958" y="197">lack of internal memory capacity</text></g>
<g id="n-b19"><circle class="l" cx="917" cy="202" r="14"/><text x="917" y="202">Cost</text></g>
<g id="n-b20"><circle class="l" cx="1077" cy="210" r="14"/><text x="1075" y="212">Charging cord is only 3 feet long</text></g>
<g id="n-b21"><circle class="l" cx="1183" cy="212" r="14"/><text x="1183" y="216">a bit slim</text></g>
<g id="n-b22"><circle class="l" cx="1142" cy="227" r="14"/><text x="1142" y="228">screen size</text></g>
<g id="n-b23"><circle class="l" cx="897" cy="238" r="14"/><text x="895" y="238">microSD slot up to 64GB</text></g>
<g id="n-b24"><circle class="l" cx="937" cy="245" r="14"/><text x="937" y="245">No NFC</text></g>
<g id="n-b25"><circle class="l" cx="1100" cy="237" r="14"/><text x="1103" y="242">System</text></g>
<g id="n-b26"><circle class="l" cx="1172" cy="252" r="14"/><text x="1173" y="254">Good Price</text></g>
<g id="n-b27"><circle class="l" cx="1133" cy="263" r="14"/><text x="1133" y="266">minor bugs</text></g>
<g id="n-b28"><circle class="l" cx="927" cy="287" r="14"/><text x="928" y="287">Screen Resolution is amazing</text></g>
<g id="n-b29"><circle class="l" cx="1097" cy="280" r="14"/><text x="1098" y="280">leaves fingerprints mark</text></g>
<g id="n-b30"><circle class="l" cx="1172" cy="297" r="14"/><text x="1170" y="295">large memory</text></g>
<g id="n-b31"><circle class="l" cx="1132" cy="305" r="14"/><text x="1132" y="302">Good Battery</text></g>
<g id="n-b32"><circle class="l" cx="1070" cy="307" r="14"/><text x="1071" y="308">waterproof tablet</text></g>
<g id="n-b33"><circle class="l" cx="953" cy="322" r="14"/><text x="953" y="322">lacking camera</text></g>
<g id="n-b34"><circle class="l" cx="992" cy="332" r="14"/><text x="992" y="332">good quality</text></g>
<g id="n-b35"><circle class="l" cx="1037" cy="330" r="14"/><text x="1037" y="327">functionality</text></g>
<g id="n-b36"><circle class="l" cx="1105" cy="327" r="14"/><text x="1105" y="327">even though</text></g>
<g id="n-b37"><circle class="l" cx="1157" cy="330" r="14"/><text x="1157" y="335">very quiet during use</text></g>
<g id="n-b38"><circle class="l" cx="1072" cy="350" r="14"/><text x="1072" y="350">I dont have a disadvantages</text></g>
<g id="n-b39"><circle class="l" cx="1017" cy="355" r="14"/><text x="1015" y="362">Big Uncomfortable</text></g>
<g id="n-b40"><circle class="l" cx="1125" cy="360" r="14"/><text x="1125" y="362">usb</text></g>
<g id="n-b41"><circle class="l" cx="1052" cy="382" r="14"/><text x="1050" y="383">Operating system</text></g>
<g id="n-b42"><circle class="l" cx="1092" cy="385" r="14"/><text x="1099" y="383">1080p video recording</text></g>
<g id="n-b43"><circle class="l" cx="1002" cy="402" r="14"/><text x="1005" y="400">bright display</text></g>
<g id="product-1"><circle cx="368" cy="400" r="58" style="fill:#878787;fill-opacity:1"/><text class="pl" x="364" y="400" style="font-size:56px">Product 1</text></g>
<g id="product-4"><circle cx="1015" cy="253" r="27" style="fill:#939393;fill-opacity:1"/><text class="pl" x="1015" y="256" style="font-size:24px">Product 4</text></g>
<g id="product-5"><circle cx="840" cy="457" r="20" style="fill:#777;fill-opacity:1"/><text class="pl" x="841" y="457" style="font-size:19px">Product 5</text></g>
</svg>
